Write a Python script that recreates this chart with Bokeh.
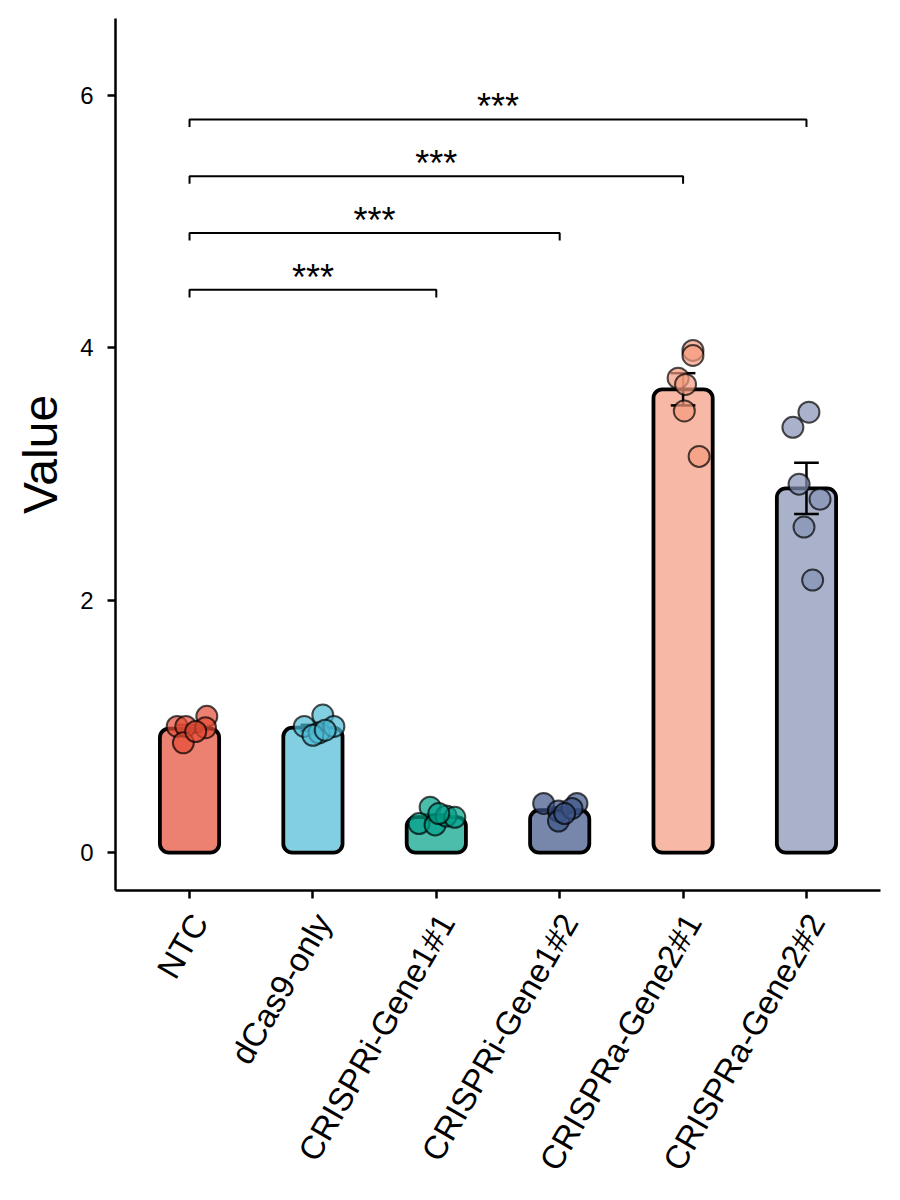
import math

from bokeh.plotting import figure
from bokeh.models import Range1d, FixedTicker, ColumnDataSource, LinearAxis
from bokeh.core.properties import value
from bokeh.embed import file_html
from bokeh.resources import INLINE

groups = ["NTC", "dCas9-only", "CRISPRi-Gene1#1", "CRISPRi-Gene1#2",
          "CRISPRa-Gene2#1", "CRISPRa-Gene2#2"]
colors = ["#E64B35", "#4DBBD5", "#00A087", "#3C5488", "#F39B7F", "#8491B4"]

# replicate values
ntc = [1.00, 1.00, 0.87, 1.08, 0.99, 0.96]
dcas9 = [1.00, 1.09, 0.95, 1.00, 0.93, 0.97]
crispri_1 = [0.36, 0.23, 0.22, 0.29, 0.28, 0.31]
crispri_2 = [0.39, 0.33, 0.25, 0.39, 0.35, 0.31]
crispra_1 = [3.98, 3.94, 3.76, 3.71, 3.50, 3.14]
crispra_2 = [3.49, 3.37, 2.92, 2.80, 2.58, 2.16]
replicates = [ntc, dcas9, crispri_1, crispri_2, crispra_1, crispra_2]

# horizontal jitter of the points (in category units)
jitter = [
    [-0.10, -0.03, -0.05, 0.14, 0.13, 0.05],
    [-0.07, 0.08, 0.05, 0.17, 0.00, 0.10],
    [-0.05, -0.14, -0.01, 0.08, 0.15, 0.02],
    [-0.13, -0.01, -0.01, 0.14, 0.10, 0.04],
    [0.08, 0.08, -0.04, 0.02, 0.01, 0.13],
    [0.02, -0.11, -0.06, 0.11, -0.02, 0.05],
]

# significance brackets
comparisons = [(0, 2), (0, 3), (0, 4), (0, 5)]
bracket_y = [4.46, 4.91, 5.36, 5.81]
bracket_labels = ["***", "***", "***", "***"]

FONT = "Liberation Sans"
X_MIN, X_MAX = -0.6, 5.6

means, ses = [], []
for vals in replicates:
    n = len(vals)
    m = sum(vals) / n
    sd = math.sqrt(sum((v - m) ** 2 for v in vals) / (n - 1))
    means.append(m)
    ses.append(sd / math.sqrt(n))

xs = list(range(len(groups)))

p = figure(frame_width=765, frame_height=872,
           x_range=Range1d(X_MIN, X_MAX), y_range=Range1d(-0.3, 6.61),
           output_backend="svg", toolbar_location=None,
           min_border_left=115, min_border_top=18,
           min_border_right=20, min_border_bottom=300)
p.outline_line_color = None
p.xgrid.visible = False
p.ygrid.visible = False
p.background_fill_color = "white"
p.border_fill_color = "white"

bars = ColumnDataSource(dict(x=xs, top=means, color=colors))
p.vbar(x="x", top="top", bottom=0, width=0.48, source=bars,
       fill_color="color", fill_alpha=0.7, line_color="black", line_width=3.8,
       border_radius=9)

# error bars (mean +/- SE)
lo = [m - s for m, s in zip(means, ses)]
hi = [m + s for m, s in zip(means, ses)]
p.segment(x0=xs, x1=xs, y0=lo, y1=hi, line_color="black", line_width=2.5)
p.segment(x0=[x - 0.1 for x in xs], x1=[x + 0.1 for x in xs], y0=hi, y1=hi,
          line_color="black", line_width=2.5)
p.segment(x0=[x - 0.1 for x in xs], x1=[x + 0.1 for x in xs], y0=lo, y1=lo,
          line_color="black", line_width=2.5)

# points
px, py, pc = [], [], []
for i, vals in enumerate(replicates):
    for v, j in zip(vals, jitter[i]):
        px.append(i + j)
        py.append(v)
        pc.append(colors[i])
p.scatter(px, py, size=21, fill_color=pc, fill_alpha=0.7,
          line_color="black", line_alpha=0.7, line_width=2)

# brackets
tick = 0.06
for (a, b), y in zip(comparisons, bracket_y):
    p.line([a, a, b, b], [y - tick, y, y, y - tick], line_color="black",
           line_width=2)
p.text(x=[(a + b) / 2 for a, b in comparisons], y=[y + 0.1 for y in bracket_y],
       text=bracket_labels, text_font=value(FONT), text_font_size="36px",
       text_align="center", text_baseline="alphabetic", text_color="black")

# axes: the main x axis carries line and ticks; a second, slightly shifted
# axis below carries the rotated names (anchored like hjust=1, vjust=1)
p.xaxis.ticker = FixedTicker(ticks=xs)
p.xaxis.major_label_overrides = {i: "" for i in xs}
p.xaxis.major_label_standoff = 0
p.xaxis.major_label_text_font_size = "1px"
p.yaxis.ticker = FixedTicker(ticks=[0, 2, 4, 6])
p.yaxis.axis_label = "Value"
for ax in (p.xaxis, p.yaxis):
    ax.axis_line_width = 2.5
    ax.axis_line_color = "black"
    ax.major_tick_line_width = 2.5
    ax.major_tick_line_color = "black"
    ax.major_tick_out = 8
    ax.major_tick_in = 0
    ax.minor_tick_line_color = None
    ax.major_label_text_font = FONT
    ax.major_label_text_color = "black"
p.yaxis.major_label_text_font_size = "24px"
p.yaxis.major_label_standoff = 14
p.yaxis.axis_label_text_font = FONT
p.yaxis.axis_label_text_font_size = "48px"
p.yaxis.axis_label_text_font_style = "normal"
p.yaxis.axis_label_text_color = "black"
p.yaxis.axis_label_standoff = 10

shift = 0.08
p.extra_x_ranges = {"names": Range1d(X_MIN - shift, X_MAX - shift)}
names = LinearAxis(x_range_name="names", ticker=FixedTicker(ticks=xs),
                   major_label_overrides={i: g for i, g in enumerate(groups)},
                   major_label_orientation=math.pi / 3,
                   major_label_text_font=FONT, major_label_text_font_size="33px",
                   major_label_text_color="black", major_label_standoff=18,
                   axis_line_color=None, major_tick_line_color=None,
                   minor_tick_line_color=None, major_tick_out=0, major_tick_in=0)
p.add_layout(names, "below")

open("out.html", "w").write(file_html(p, INLINE))
